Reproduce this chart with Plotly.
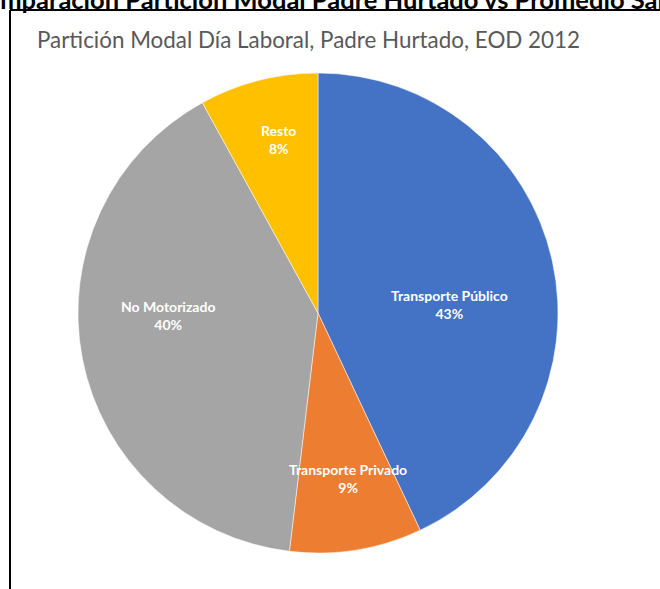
import plotly.graph_objects as go
import math

categories = ["Transporte Público", "Transporte Privado", "No Motorizado", "Resto"]
values = [43.0, 8.9, 40.1, 8.0]
pct_labels = ["43%", "9%", "40%", "8%"]
colors = ["#4472C4", "#ED7D31", "#A5A5A5", "#FFC000"]
label_radius = [0.547, 0.70, 0.625, 0.74]
label_angle_shift = [9.1, -1.0, 9.9, 1.4]

W, H = 660, 589
cx, cy, R = 318, 313, 240
dom_x = [(cx - R) / W, (cx + R) / W]
dom_y = [1 - (cy + R) / H, 1 - (cy - R) / H]

fig = go.Figure(go.Pie(
    labels=categories, values=values, sort=False, direction="clockwise", rotation=0,
    marker=dict(colors=colors, line=dict(color="white", width=0.5)),
    textinfo="none", hoverinfo="label+percent", showlegend=False,
    domain=dict(x=dom_x, y=dom_y),
))

total = sum(values)
cum = 0
for cat, v, p, f, sh in zip(categories, values, pct_labels, label_radius, label_angle_shift):
    mid = (cum + v / 2) / total * 2 * math.pi + math.radians(sh)
    cum += v
    px = cx + R * f * math.sin(mid)
    py = cy - R * f * math.cos(mid)
    fig.add_annotation(x=px / W, y=1 - py / H, xref="paper", yref="paper",
                       xanchor="center", yanchor="middle",
                       text=f"<b>{cat}<br>{p}</b>", showarrow=False,
                       font=dict(family="Lato", size=14, color="white"), align="center")

fig.add_annotation(x=35 / W, y=1 - 40 / H, xref="paper", yref="paper", xanchor="left", yanchor="middle",
                   text="Partición Modal Día Laboral, Padre Hurtado, EOD 2012", showarrow=False,
                   font=dict(family="Lato", size=22.4, color="#595959"))

fig.add_annotation(x=-33 / W, y=1 - 16 / H, xref="paper", yref="paper", xanchor="left", yanchor="bottom",
                   text="<b>Comparación Partición Modal Padre Hurtado vs Promedio Santiago</b>", showarrow=False,
                   font=dict(family="Lato", size=25.5, color="black"))

fig.add_shape(type="line", xref="paper", yref="paper", x0=10 / W, x1=1, y0=1 - 10 / H, y1=1 - 10 / H,
              line=dict(color="black", width=2))
fig.add_shape(type="line", xref="paper", yref="paper", x0=10 / W, x1=10 / W, y0=0, y1=1 - 10 / H,
              line=dict(color="black", width=2))

fig.update_layout(width=W, height=H, margin=dict(l=0, r=0, t=0, b=0),
                  paper_bgcolor="white", plot_bgcolor="white")
fig.write_html("out.html", config={"displayModeBar": False},
               post_script="document.body.style.margin='0';")
